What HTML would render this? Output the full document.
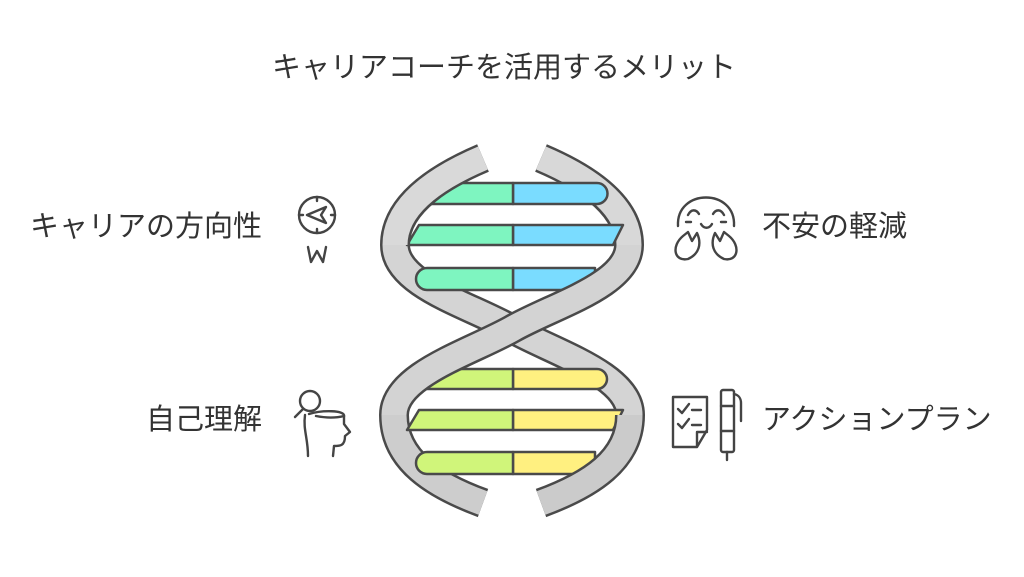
<!DOCTYPE html>
<html><head><meta charset="utf-8"><style>
body{margin:0;background:#fff;width:1024px;height:577px;overflow:hidden;font-family:"Liberation Sans","Noto Sans CJK JP",sans-serif;color:#333}
.t{position:absolute;font-size:29px;white-space:nowrap;line-height:1}
</style></head><body>
<svg width="1024" height="577" style="position:absolute;left:0;top:0">
<g fill="none" stroke-linecap="butt">
<path d="M541,158 C574,172 629,200 629,245" stroke="#4a4a4a" stroke-width="30"/>
<path d="M395,245 C395,285 470,305 512,329 C555,353 630,375 630,415" stroke="#4a4a4a" stroke-width="30"/>
<path d="M394,415 C394,460 434,485 483,503" stroke="#4a4a4a" stroke-width="30"/>
<path d="M541,158 C574,172 629,200 629,245" stroke="#d8d8d8" stroke-width="25"/>
<path d="M395,245 C395,285 470,305 512,329 C555,353 630,375 630,415" stroke="#d4d4d4" stroke-width="25"/>
<path d="M394,415 C394,460 434,485 483,503" stroke="#cdcdcd" stroke-width="25"/>
</g>
<g stroke="#4a4a4a" stroke-width="2.5" stroke-linejoin="round">
<path d="M513,183 H597 A10.5,10.5 0 0 1 597,204 H513 Z" fill="#7adcff"/>
<path d="M425,183 H513 V204 H425 Z" fill="#7ef5c0"/>
<path d="M513,225 H623 L613,245 H513 Z" fill="#7adcff"/>
<path d="M419,225 H513 V245 H407 Z" fill="#7ef5c0"/>
<path d="M513,268 H595 V290 H513 Z" fill="#7adcff"/>
<path d="M427,268 H513 V290 H427 A11,11 0 0 1 427,268 Z" fill="#7ef5c0"/>
<path d="M513,369 H597 A10,10 0 0 1 597,389 H513 Z" fill="#fff080"/>
<path d="M415,369 H513 V389 H415 Z" fill="#d0f57a"/>
<path d="M513,410 H623 L613,430 H513 Z" fill="#fff080"/>
<path d="M419,410 H513 V430 H407 Z" fill="#d0f57a"/>
<path d="M513,452 H595 V474 H513 Z" fill="#fff080"/>
<path d="M427,452 H513 V474 H427 A11,11 0 0 1 427,452 Z" fill="#d0f57a"/>
</g>
<g fill="none">
<path d="M483,158 C450,172 395,200 395,245" stroke="#4a4a4a" stroke-width="30"/>
<path d="M629,245 C629,285 554,305 512,329 C469,353 394,375 394,415" stroke="#4a4a4a" stroke-width="30"/>
<path d="M630,415 C630,460 590,485 541,503" stroke="#4a4a4a" stroke-width="30"/>
<path d="M483,158 C450,172 395,200 395,245" stroke="#d9d9d9" stroke-width="25"/>
<path d="M629,245 C629,285 554,305 512,329 C469,353 394,375 394,415" stroke="#d3d3d3" stroke-width="25"/>
<path d="M630,415 C630,460 590,485 541,503" stroke="#cbcbcb" stroke-width="25"/>
</g>
<g fill="none" stroke="#444" stroke-width="2.4" stroke-linecap="round" stroke-linejoin="round">
<circle cx="317" cy="215" r="18"/>
<path d="M317,197v4M317,229v4M299,215h4M331,215h4"/>
<path d="M307,215 L326,207 L321,215 L326,223 Z"/>
<path d="M308,247 L311,262 L317,251 L323,262 L326,247"/>
<circle cx="310" cy="401" r="10"/>
<path d="M303,409 L295,417"/>
<path d="M309,414 C322,410 345,410 344,416 L344,424 L350,432 L345,436 C345,446 340,446 334,446 L333,456"/>
<path d="M305,415 C303,430 308,438 308,456"/>
<path d="M316,416 C326,418 336,418 344,416"/>
<path d="M678,226 C676,188 736,188 734,226"/>
<path d="M688,215 C691,209 696,209 699,214 M713,214 C716,209 721,209 724,215"/>
<path d="M686,222h5M721,222h5"/>
<path d="M701,224 C704,229 709,229 712,224"/>
<path d="M683,236 C671,246 674,262 688,259 C699,254 702,244 697,233 L692,241 L688,232 Z"/>
<path d="M729,236 C741,246 738,262 724,259 C713,254 710,244 715,233 L720,241 L724,232 Z"/>
<path d="M673,397 H707 V430 L697,447 H673 Z M697,447 V432 H707"/>
<path d="M678,409 L682,413 L689,404 M692,410h9 M678,424 L682,428 L689,419 M692,425h9"/>
<rect x="721" y="390" width="13" height="62" rx="2"/>
<path d="M721,406h13M721,431h13M734,394 C739,395 741,399 741,403 V421 M727,452 V460"/>
</g>
</svg>
<div class="t" style="left:272px;top:54px">キャリアコーチを活用するメリット</div>
<div class="t" style="right:762px;top:213px">キャリアの方向性</div>
<div class="t" style="right:762px;top:406px">自己理解</div>
<div class="t" style="left:762px;top:213px">不安の軽減</div>
<div class="t" style="left:762px;top:406px">アクションプラン</div>
</body></html>
